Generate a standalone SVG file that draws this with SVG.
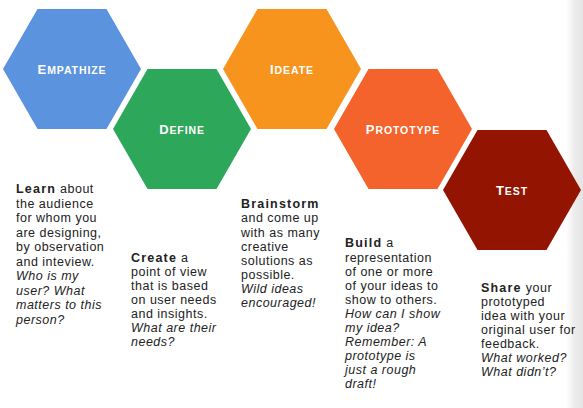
<svg xmlns="http://www.w3.org/2000/svg" width="583" height="408" viewBox="0 0 583 408">
<defs>
<linearGradient id="edge" x1="0" y1="0" x2="1" y2="0">
<stop offset="0" stop-color="#ffffff"/>
<stop offset="0.5" stop-color="#ececec"/>
<stop offset="1" stop-color="#e4e4e4"/>
</linearGradient>
<style>
.lbl{font-family:"Liberation Sans",Arial,sans-serif;font-weight:bold;fill:#ffffff;text-anchor:middle;letter-spacing:0.9px}
.big{font-size:13px}
.sm{font-size:10.5px}
.body{font-family:"Liberation Sans",Arial,sans-serif;font-size:12.5px;fill:#222222;letter-spacing:0.5px}
.lead{font-weight:bold;letter-spacing:1.2px}
.it{font-style:italic}
</style>
</defs>
<rect x="0" y="0" width="583" height="408" fill="#ffffff"/>
<rect x="566" y="0" width="17" height="408" fill="url(#edge)"/>

<g id="empathize">
<polygon points="3,69 37.5,9 106.5,9 141,69 106.5,129 37.5,129" fill="#5b93de"/>
<text class="lbl" x="72" y="73.5"><tspan class="big">E</tspan><tspan class="sm">MPATHIZE</tspan></text>
</g>
<g id="define">
<polygon points="113,129 147.5,69 216.5,69 251,129 216.5,189 147.5,189" fill="#2da75a"/>
<text class="lbl" x="182" y="133.5"><tspan class="big">D</tspan><tspan class="sm">EFINE</tspan></text>
</g>
<g id="ideate">
<polygon points="223,69 257.5,9 326.5,9 361,69 326.5,129 257.5,129" fill="#f7941e"/>
<text class="lbl" x="292" y="73.5"><tspan class="big">I</tspan><tspan class="sm">DEATE</tspan></text>
</g>
<g id="prototype">
<polygon points="334,129 368.5,69 437.5,69 472,129 437.5,189 368.5,189" fill="#f4632b"/>
<text class="lbl" x="403" y="133.5"><tspan class="big">P</tspan><tspan class="sm">ROTOTYPE</tspan></text>
</g>
<g id="test">
<polygon points="443,190 477.5,130 546.5,130 581,190 546.5,250 477.5,250" fill="#931400"/>
<text class="lbl" x="512" y="195"><tspan class="big">T</tspan><tspan class="sm">EST</tspan></text>
</g>

<g id="connectors"></g>

<g id="empathize-text">
<text class="body" x="16" y="193"><tspan class="lead">Learn</tspan> about</text>
<text class="body" x="16" y="207.5">the audience</text>
<text class="body" x="16" y="222">for whom you</text>
<text class="body" x="16" y="236.5">are designing,</text>
<text class="body" x="16" y="251">by observation</text>
<text class="body" x="16" y="265.5">and inteview.</text>
<text class="body it" x="16" y="280">Who is my</text>
<text class="body it" x="16" y="294.5">user? What</text>
<text class="body it" x="16" y="309">matters to this</text>
<text class="body it" x="16" y="323.5">person?</text>
</g>
<g id="define-text">
<text class="body" x="131" y="262"><tspan class="lead">Create</tspan> a</text>
<text class="body" x="131" y="276">point of view</text>
<text class="body" x="131" y="290">that is based</text>
<text class="body" x="131" y="304">on user needs</text>
<text class="body" x="131" y="318">and insights.</text>
<text class="body it" x="131" y="332">What are their</text>
<text class="body it" x="131" y="346">needs?</text>
</g>
<g id="ideate-text">
<text class="body lead" x="241" y="208">Brainstorm</text>
<text class="body" x="241" y="222">and come up</text>
<text class="body" x="241" y="236.5">with as many</text>
<text class="body" x="241" y="250.5">creative</text>
<text class="body" x="241" y="265">solutions as</text>
<text class="body" x="241" y="279">possible.</text>
<text class="body it" x="241" y="293">Wild ideas</text>
<text class="body it" x="241" y="307">encouraged!</text>
</g>
<g id="prototype-text">
<text class="body" x="345" y="247"><tspan class="lead">Build</tspan> a</text>
<text class="body" x="345" y="261.5">representation</text>
<text class="body" x="345" y="275.5">of one or more</text>
<text class="body" x="345" y="289.5">of your ideas to</text>
<text class="body" x="345" y="303.5">show to others.</text>
<text class="body it" x="345" y="317.5">How can I show</text>
<text class="body it" x="345" y="331.5">my idea?</text>
<text class="body it" x="345" y="345.5">Remember: A</text>
<text class="body it" x="345" y="359.5">prototype is</text>
<text class="body it" x="345" y="373.5">just a rough</text>
<text class="body it" x="345" y="387.5">draft!</text>
</g>
<g id="test-text">
<text class="body" x="481" y="292"><tspan class="lead">Share</tspan> your</text>
<text class="body" x="481" y="306">prototyped</text>
<text class="body" x="481" y="320">idea with your</text>
<text class="body" x="481" y="334">original user for</text>
<text class="body" x="481" y="348">feedback.</text>
<text class="body it" x="481" y="362">What worked?</text>
<text class="body it" x="481" y="376">What didn’t?</text>
</g>
</svg>
